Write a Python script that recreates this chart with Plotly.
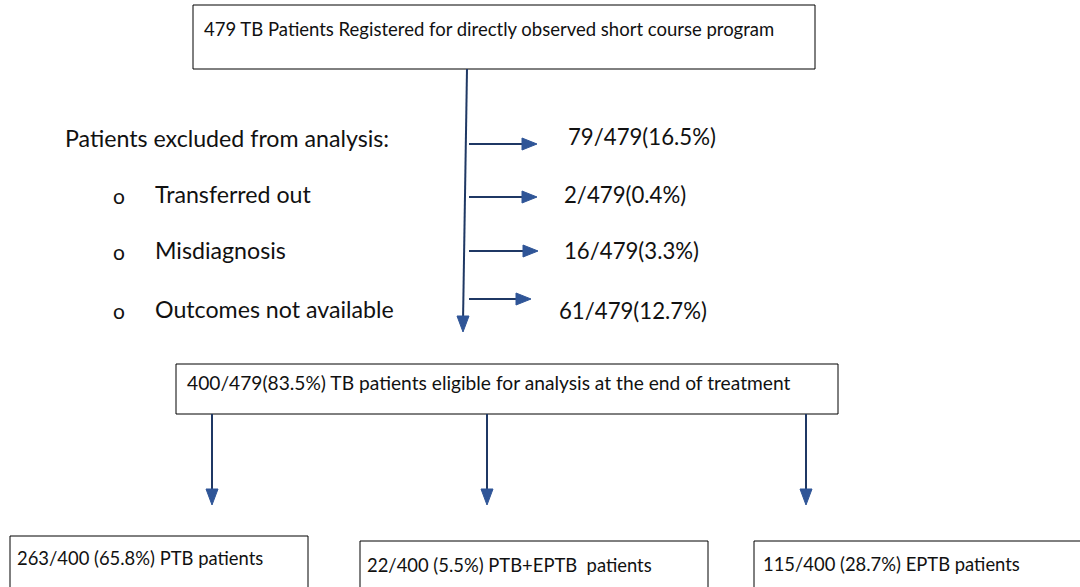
import plotly.graph_objects as go

# ---- content ----
top_label = "479 TB Patients Registered for directly observed short course program"
excl_header = "Patients excluded from analysis:"
excl_reasons = ["Transferred out", "Misdiagnosis", "Outcomes not available"]
excl_counts = ["79/479(16.5%)", "2/479(0.4%)", "16/479(3.3%)", "61/479(12.7%)"]
eligible_label = "400/479(83.5%) TB patients eligible for analysis at the end of treatment"
group_labels = ["263/400 (65.8%) PTB patients",
                "22/400 (5.5%) PTB+EPTB  patients",
                "115/400 (28.7%) EPTB patients"]

W, H = 1080, 587
LINE = "#1f3864"
HEAD = "#2f5597"
FONT = "Lato, Noto Sans, sans-serif"

fig = go.Figure()
shapes = []
annotations = []

def box(x0, y0, x1, y1):
    shapes.append(dict(type="rect", x0=x0, y0=y0, x1=x1, y1=y1,
                       line=dict(color="#000000", width=1), fillcolor="rgba(0,0,0,0)"))

def text(x, y, s, size, anchor="left"):
    annotations.append(dict(x=x, y=y, text=s, showarrow=False, xanchor=anchor,
                            yanchor="middle", font=dict(family=FONT, size=size, color="#111111")))

def hline_arrow(x0, x1, y):
    shapes.append(dict(type="line", x0=x0, y0=y, x1=x1 - 10, y1=y,
                       line=dict(color=LINE, width=2)))
    shapes.append(dict(type="path", path=f"M{x1-15},{y-6} L{x1},{y} L{x1-15},{y+6} Z",
                       fillcolor=HEAD, line=dict(color=HEAD, width=1)))

def vline_arrow(x, y0, y1, xtop=None):
    xt = x if xtop is None else xtop
    shapes.append(dict(type="line", x0=xt, y0=y0, x1=x, y1=y1 - 10,
                       line=dict(color=LINE, width=2)))
    shapes.append(dict(type="path", path=f"M{x-6},{y1-16} L{x},{y1} L{x+6},{y1-16} Z",
                       fillcolor=HEAD, line=dict(color=HEAD, width=1)))

# top box
box(193, 5, 815, 69)
text(202, 29, top_label, 18.5)

# main vertical arrow
vline_arrow(463, 69, 332, xtop=467)

# side arrows and counts
arrow_y = [144, 197, 251, 299]
arrow_end = [537, 537, 538, 531]
count_x = [566, 562, 562, 557]
count_y = [136, 194, 250, 310]
for ay, ae, cx, cy, s in zip(arrow_y, arrow_end, count_x, count_y, excl_counts):
    hline_arrow(469, ae, ay)
    text(cx, cy, s, 22.2)

# left exclusion list
text(63, 138, excl_header, 23.2)
reason_y = [194, 250, 309]
for ry, r in zip(reason_y, excl_reasons):
    text(111, ry + 1, "o", 21)
    text(153, ry, r, 23.2)

# eligible box
box(176, 364, 838, 414)
text(185, 382, eligible_label, 19.2)

# down arrows
for dx in [212, 487, 806]:
    vline_arrow(dx, 414, 505)

# bottom boxes
bottom_boxes = [(10, 536, 308, 600), (360, 541, 708, 600), (754, 541, 1090, 600)]
bottom_text_pos = [(15, 558), (365, 565), (761, 564)]
for (x0, y0, x1, y1), (tx, ty), s in zip(bottom_boxes, bottom_text_pos, group_labels):
    box(x0, y0, x1, y1)
    text(tx, ty, s, 18.4)

fig.update_layout(
    width=W, height=H, margin=dict(l=0, r=0, t=0, b=0),
    paper_bgcolor="white", plot_bgcolor="white",
    xaxis=dict(range=[0, W], visible=False, fixedrange=True),
    yaxis=dict(range=[H, 0], visible=False, fixedrange=True),
    shapes=shapes, annotations=annotations, showlegend=False,
)
fig.write_html("out.html", config={"displayModeBar": False},
               post_script="document.body.style.margin='0';document.body.style.overflow='hidden';")
